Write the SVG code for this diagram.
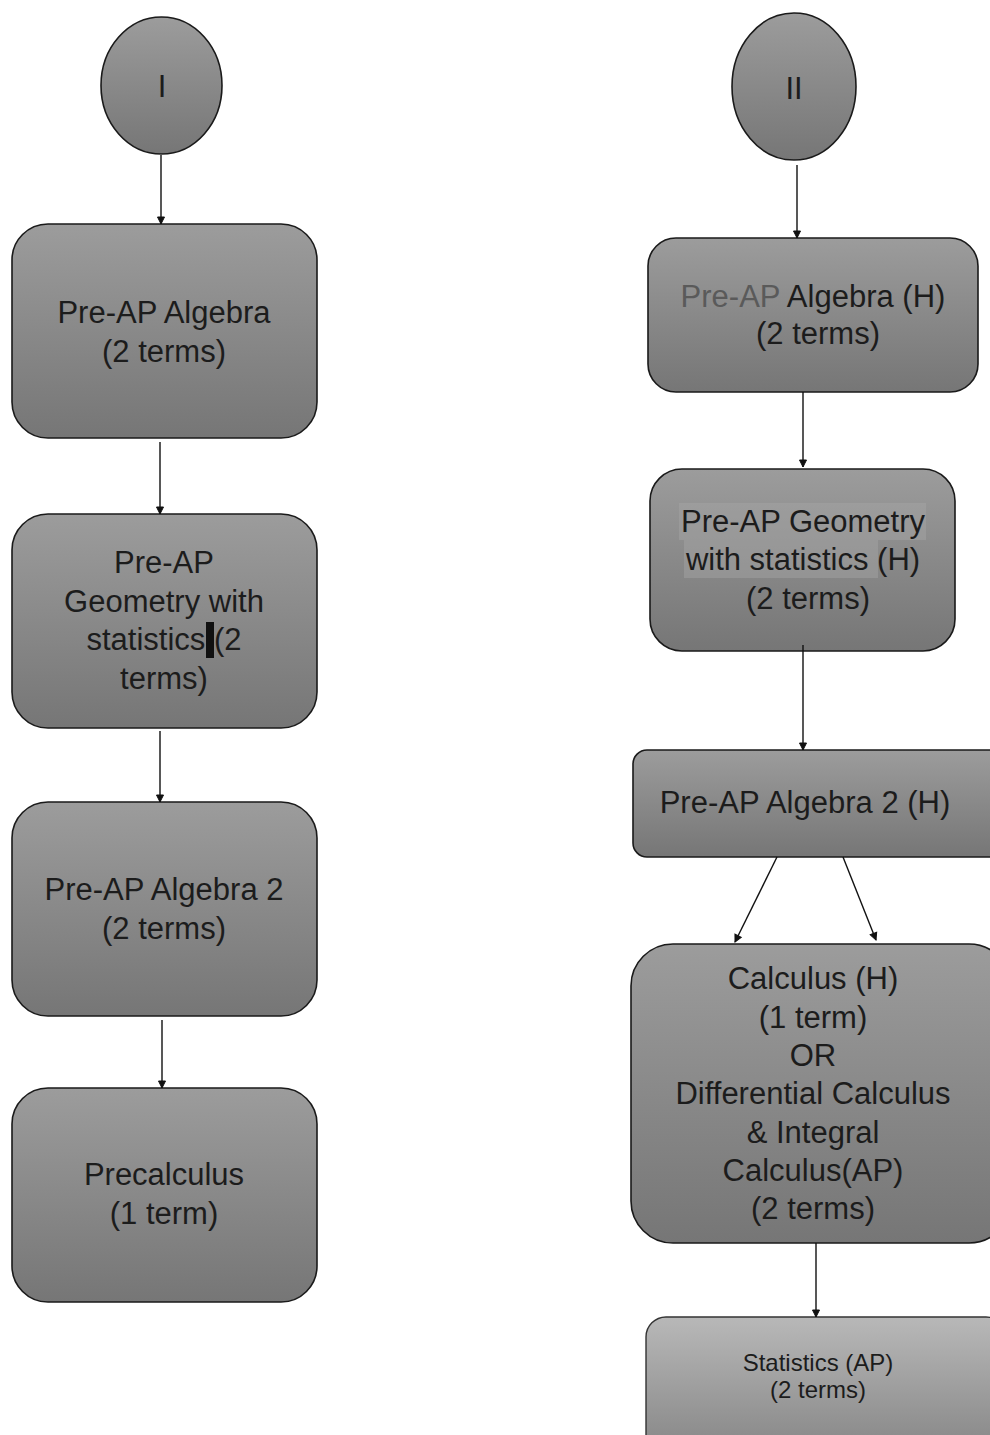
<svg xmlns="http://www.w3.org/2000/svg" width="990" height="1435" viewBox="0 0 990 1435">
<defs>
<linearGradient id="g" x1="0" y1="0" x2="0" y2="1"><stop offset="0" stop-color="#9c9c9c"/><stop offset="1" stop-color="#767676"/></linearGradient>
<linearGradient id="g2" x1="0" y1="0" x2="0" y2="1"><stop offset="0" stop-color="#b8b8b8"/><stop offset="1" stop-color="#858585"/></linearGradient>
<marker id="a" markerWidth="10" markerHeight="10" refX="8" refY="5" orient="auto" markerUnits="userSpaceOnUse"><path d="M1,1.5 L8,5 L1,8.5 Z" fill="#111" stroke="#111" stroke-width="1"/></marker>
<style>
.n{fill:url(#g);stroke:#1a1a1a;stroke-width:1.6}
.l{fill:url(#g2);stroke:#333;stroke-width:1.4}
text{font-family:"Liberation Sans",Arial,sans-serif;font-size:31px;fill:#1c1c1c;text-anchor:middle}
.s{font-size:24px}
.c line{stroke:#111;stroke-width:1.4;marker-end:url(#a)}
</style>
</defs>
<g id="startI"><ellipse class="n" cx="161.5" cy="85.5" rx="60.5" ry="68.5"/><text x="162" y="97">I</text></g>
<g id="startII"><ellipse class="n" cx="794" cy="86.5" rx="62" ry="73.5"/><text x="794" y="99">II</text></g>

<g id="algebra"><rect class="n" x="12" y="224" width="305" height="214" rx="36"/><text x="164" y="323">Pre-AP Algebra</text><text x="164" y="361.5">(2 terms)</text></g>
<g id="geometry"><rect class="n" x="12" y="514" width="305" height="214" rx="36"/><text x="164" y="573">Pre-AP</text><text x="164" y="611.5">Geometry with</text><text x="164" y="650">statistics (2</text><text x="164" y="688.5">terms)</text><rect x="206" y="622" width="8" height="36" fill="#111"/></g>
<g id="algebra2"><rect class="n" x="12" y="802" width="305" height="214" rx="36"/><text x="164" y="900">Pre-AP Algebra 2</text><text x="164" y="938.5">(2 terms)</text></g>
<g id="precalc"><rect class="n" x="12" y="1088" width="305" height="214" rx="36"/><text x="164" y="1185">Precalculus</text><text x="164" y="1223.5">(1 term)</text></g>

<g id="algebraH"><rect class="n" x="648" y="238" width="330" height="154" rx="28"/><text x="813" y="307"><tspan fill="#5a5a5a">Pre-AP</tspan> Algebra (H)</text><text x="818" y="344">(2 terms)</text></g>
<g id="geometryH"><rect class="n" x="650" y="469" width="305" height="182" rx="32"/><rect x="679" y="503" width="247" height="37" fill="#a6a6a6" opacity="0.45"/><rect x="684" y="540" width="194" height="38" fill="#a6a6a6" opacity="0.45"/><text x="803" y="532">Pre-AP Geometry</text><text x="803" y="570">with statistics (H)</text><text x="808" y="608.5">(2 terms)</text></g>
<g id="algebra2H"><rect class="n" x="633" y="750" width="370" height="107" rx="14"/><text x="805" y="813">Pre-AP Algebra 2 (H)</text></g>
<g id="calculus"><rect class="n" x="631" y="944" width="380" height="299" rx="42"/><text x="813" y="989">Calculus (H)</text><text x="813" y="1027.5">(1 term)</text><text x="813" y="1066">OR</text><text x="813" y="1104">Differential Calculus</text><text x="813" y="1142.5">&amp; Integral</text><text x="813" y="1181">Calculus(AP)</text><text x="813" y="1219">(2 terms)</text></g>
<g id="statistics"><rect class="l" x="646" y="1317" width="360" height="140" rx="20"/><text class="s" x="818" y="1371">Statistics (AP)</text><text class="s" x="818" y="1398">(2 terms)</text></g>

<g id="connectors" class="c">
<line x1="161" y1="155" x2="161" y2="224"/>
<line x1="160" y1="442" x2="160" y2="514"/>
<line x1="160" y1="731" x2="160" y2="802"/>
<line x1="162" y1="1020" x2="162" y2="1088"/>
<line x1="797" y1="165" x2="797" y2="238"/>
<line x1="803" y1="392" x2="803" y2="467"/>
<line x1="803" y1="645" x2="803" y2="750"/>
<line x1="777" y1="857" x2="735" y2="942"/>
<line x1="843" y1="857" x2="876" y2="940"/>
<line x1="816" y1="1243" x2="816" y2="1317"/>
</g>
</svg>
